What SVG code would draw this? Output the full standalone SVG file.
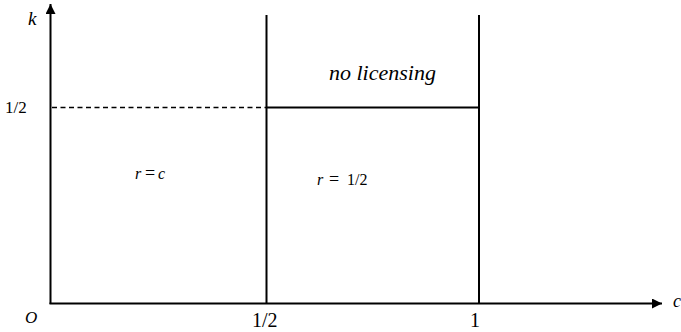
<svg xmlns="http://www.w3.org/2000/svg" width="681" height="332" viewBox="0 0 681 332" font-family="Liberation Serif, Times New Roman, DejaVu Serif, serif">
  <style>
    .ln { stroke: #000; stroke-width: 2; fill: none; }
    .dash { stroke: #000; stroke-width: 1.3; stroke-dasharray: 5 3.5; fill: none; }
    .it { font-style: italic; }
  </style>
  <defs>
    <marker id="arr" viewBox="0 0 10 10" refX="10" refY="5" markerWidth="6" markerHeight="5" markerUnits="strokeWidth" orient="auto">
      <path d="M0,0 L10,5 L0,10 Z" fill="#000"/>
    </marker>
  </defs>

  <g id="connectors">
    <!-- axes -->
    <line class="ln" x1="50.5" y1="304" x2="50.5" y2="4" marker-end="url(#arr)"/>
    <line class="ln" x1="49.5" y1="303.5" x2="662" y2="303.5" marker-end="url(#arr)"/>
    <!-- region boundaries -->
    <line class="ln" x1="266.5" y1="15" x2="266.5" y2="304"/>
    <line class="ln" x1="479" y1="15" x2="479" y2="304"/>
    <line class="ln" x1="266" y1="107.5" x2="480" y2="107.5"/>
    <line class="dash" x1="52" y1="107.5" x2="266" y2="107.5"/>
  </g>

  <g id="axis-labels">
    <text class="it" x="28" y="25" font-size="19">k</text>
    <text x="5" y="113" font-size="17">1/2</text>
    <text class="it" x="25" y="323" font-size="17">O</text>
    <text x="252" y="327" font-size="20">1/2</text>
    <text x="470" y="327" font-size="20">1</text>
    <text class="it" x="673" y="307" font-size="18">c</text>
  </g>

  <g id="region-no-licensing">
    <text class="it" x="329" y="80" font-size="22">no licensing</text>
  </g>
  <g id="region-r-c">
    <text y="179" font-size="16"><tspan class="it" x="135">r</tspan><tspan x="145" font-size="18">=</tspan><tspan class="it" x="158">c</tspan></text>
  </g>
  <g id="region-r-half">
    <text y="185" font-size="16"><tspan class="it" x="317">r</tspan><tspan x="329" font-size="18">=</tspan><tspan x="347">1/2</tspan></text>
  </g>
</svg>
